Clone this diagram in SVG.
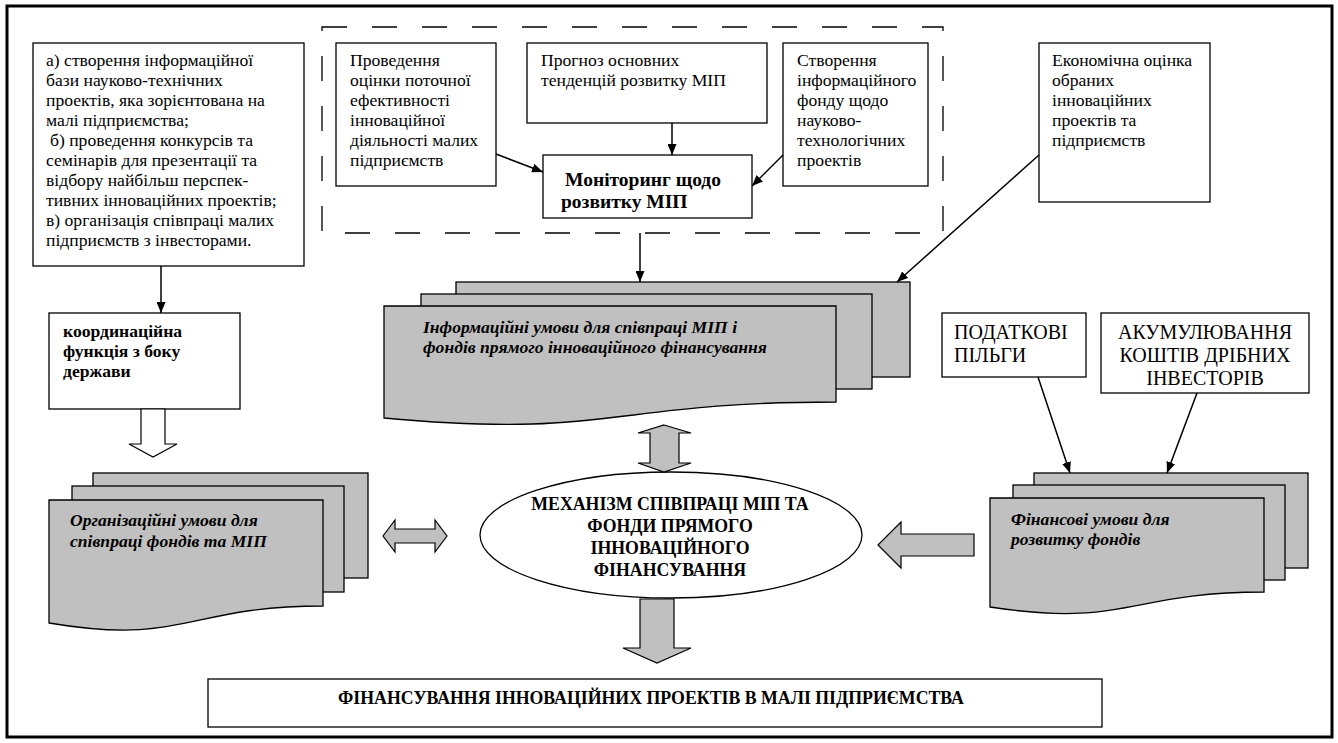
<svg xmlns="http://www.w3.org/2000/svg" width="1338" height="743" viewBox="0 0 1338 743">
<defs>
<style>
.box{fill:#fff;stroke:#000;stroke-width:1.3}
.sheet{fill:#c0c0c0;stroke:#000;stroke-width:1.3}
.garrow{fill:#c0c0c0;stroke:#000;stroke-width:1.2}
.warrow{fill:#fff;stroke:#000;stroke-width:1.2}
.t{font-family:"Liberation Serif","DejaVu Serif","Times New Roman",serif;font-size:17.6px;fill:#000}
.b{font-weight:bold}
.bi{font-weight:bold;font-style:italic}
.conn{stroke:#000;stroke-width:1.5;fill:none;marker-end:url(#ah)}
</style>
<marker id="ah" markerUnits="userSpaceOnUse" markerWidth="11" markerHeight="9" refX="11" refY="4.5" orient="auto">
<path d="M0,0 L11,4.5 L0,9 z" fill="#000"/>
</marker>
</defs>
<rect x="7" y="6" width="1325" height="731" fill="#fff" stroke="#000" stroke-width="3"/>

<g id="dashed-group">
<rect x="322" y="27" width="621" height="206" fill="none" stroke="#000" stroke-width="1.3" stroke-dasharray="25 25"/>
</g>

<g id="node-a">
<rect class="box" x="33" y="43" width="271" height="223"/>
<text class="t"><tspan x="46" y="66">а) створення інформаційної</tspan><tspan x="46" y="86">бази науково-технічних</tspan><tspan x="46" y="106">проектів, яка зорієнтована на</tspan><tspan x="46" y="126">малі підприємства;</tspan><tspan x="50" y="146">б) проведення конкурсів та</tspan><tspan x="46" y="166">семінарів для презентації та</tspan><tspan x="46" y="186">відбору найбільш перспек-</tspan><tspan x="46" y="206">тивних інноваційних проектів;</tspan><tspan x="46" y="226">в) організація співпраці малих</tspan><tspan x="46" y="246">підприємств з інвесторами.</tspan></text>
</g>

<g id="node-b1">
<rect class="box" x="336" y="43" width="160" height="143"/>
<text class="t"><tspan x="350" y="66">Проведення</tspan><tspan x="350" y="86">оцінки поточної</tspan><tspan x="350" y="106">ефективності</tspan><tspan x="350" y="126">інноваційної</tspan><tspan x="350" y="146">діяльності малих</tspan><tspan x="350" y="166">підприємств</tspan></text>
</g>

<g id="node-b2">
<rect class="box" x="527" y="43" width="240" height="80"/>
<text class="t"><tspan x="541" y="66">Прогноз основних</tspan><tspan x="541" y="86">тенденцій розвитку МІП</tspan></text>
</g>

<g id="node-b3">
<rect class="box" x="783" y="43" width="145" height="143"/>
<text class="t"><tspan x="797" y="66">Створення</tspan><tspan x="797" y="86">інформаційного</tspan><tspan x="797" y="106">фонду щодо</tspan><tspan x="797" y="126">науково-</tspan><tspan x="797" y="146">технологічних</tspan><tspan x="797" y="166">проектів</tspan></text>
</g>

<g id="node-monitoring">
<rect class="box" x="543" y="155" width="209" height="63"/>
<text class="t b" style="font-size:19.5px"><tspan x="565" y="186">Моніторинг щодо</tspan><tspan x="561" y="208">розвитку МІП</tspan></text>
</g>

<g id="node-c">
<rect class="box" x="1039" y="43" width="171" height="159"/>
<text class="t"><tspan x="1052" y="66">Економічна оцінка</tspan><tspan x="1052" y="86">обраних</tspan><tspan x="1052" y="106">інноваційних</tspan><tspan x="1052" y="126">проектів та</tspan><tspan x="1052" y="146">підприємств</tspan></text>
</g>

<g id="node-coord">
<rect class="box" x="49" y="313" width="191" height="96"/>
<text class="t b"><tspan x="63" y="337">координаційна</tspan><tspan x="63" y="357">функція з боку</tspan><tspan x="63" y="377">держави</tspan></text>
</g>

<g id="node-info">
<rect class="sheet" x="456" y="282" width="454" height="95"/>
<rect class="sheet" x="421" y="294" width="451" height="95"/>
<path class="sheet" d="M384,306 H836 V402 C610,402 610,439 384,418 Z"/>
<text class="t bi"><tspan x="423" y="333">Інформаційні умови для співпраці МІП і</tspan><tspan x="423" y="353">фондів прямого інноваційного фінансування</tspan></text>
</g>

<g id="node-tax">
<rect class="box" x="942" y="313" width="144" height="64"/>
<text class="t" style="font-size:20px"><tspan x="954" y="339">ПОДАТКОВІ</tspan><tspan x="954" y="362">ПІЛЬГИ</tspan></text>
</g>

<g id="node-accum">
<rect class="box" x="1101" y="313" width="208" height="80"/>
<text class="t" style="font-size:20px" text-anchor="middle"><tspan x="1205" y="339">АКУМУЛЮВАННЯ</tspan><tspan x="1205" y="362">КОШТІВ ДРІБНИХ</tspan><tspan x="1205" y="385">ІНВЕСТОРІВ</tspan></text>
</g>

<g id="node-org">
<rect class="sheet" x="93" y="473" width="275" height="105"/>
<rect class="sheet" x="72" y="486" width="272" height="106"/>
<path class="sheet" d="M49,500 H323 V606 C186,606 186,646 49,623 Z"/>
<text class="t bi"><tspan x="70" y="526">Організаційні умови для</tspan><tspan x="70" y="547">співпраці фондів та МІП</tspan></text>
</g>

<g id="node-mechanism">
<ellipse cx="671" cy="535" rx="191" ry="63" fill="#fff" stroke="#000" stroke-width="1.3"/>
<text class="t b" style="font-size:17.8px" text-anchor="middle"><tspan x="670" y="510">МЕХАНІЗМ СПІВПРАЦІ МІП ТА</tspan><tspan x="670" y="532">ФОНДИ ПРЯМОГО</tspan><tspan x="670" y="554">ІННОВАЦІЙНОГО</tspan><tspan x="670" y="576">ФІНАНСУВАННЯ</tspan></text>
</g>

<g id="node-fin">
<rect class="sheet" x="1034" y="473" width="274" height="95"/>
<rect class="sheet" x="1013" y="485" width="272" height="95"/>
<path class="sheet" d="M990,498 H1264 V592 C1127,592 1127,628 990,607 Z"/>
<text class="t bi"><tspan x="1011" y="525">Фінансові умови для</tspan><tspan x="1011" y="545">розвитку фондів</tspan></text>
</g>

<g id="node-result">
<rect class="box" x="208" y="679" width="894" height="48"/>
<text class="t b" style="font-size:17.8px" text-anchor="middle" x="651" y="704">ФІНАНСУВАННЯ ІННОВАЦІЙНИХ ПРОЕКТІВ В МАЛІ ПІДПРИЄМСТВА</text>
</g>

<g id="connectors">
<line class="conn" x1="161" y1="266" x2="161" y2="313"/>
<line class="conn" x1="496" y1="154" x2="543" y2="172"/>
<line class="conn" x1="672" y1="123" x2="672" y2="155"/>
<line class="conn" x1="783" y1="155" x2="752" y2="186"/>
<line class="conn" x1="640" y1="233" x2="640" y2="282"/>
<line class="conn" x1="1039" y1="155" x2="897" y2="282"/>
<line class="conn" x1="1038" y1="377" x2="1070" y2="473"/>
<line class="conn" x1="1197" y1="393" x2="1167" y2="473"/>
<polygon class="warrow" points="141,409 165,409 165,444 177,444 153,457 129,444 141,444"/>
<polygon class="garrow" points="383,536 395,520 395,529 435,529 435,520 447,536 435,552 435,543 395,543 395,552"/>
<polygon class="garrow" points="664,425 691,433 679,433 679,463 691,463 664,472 638,463 650,463 650,433 638,433"/>
<polygon class="garrow" points="878,545 901,522 901,534 974,534 974,556 901,556 901,568"/>
<polygon class="garrow" points="640,599 674,599 674,648 691,648 657,663 623,648 640,648"/>
</g>
</svg>
